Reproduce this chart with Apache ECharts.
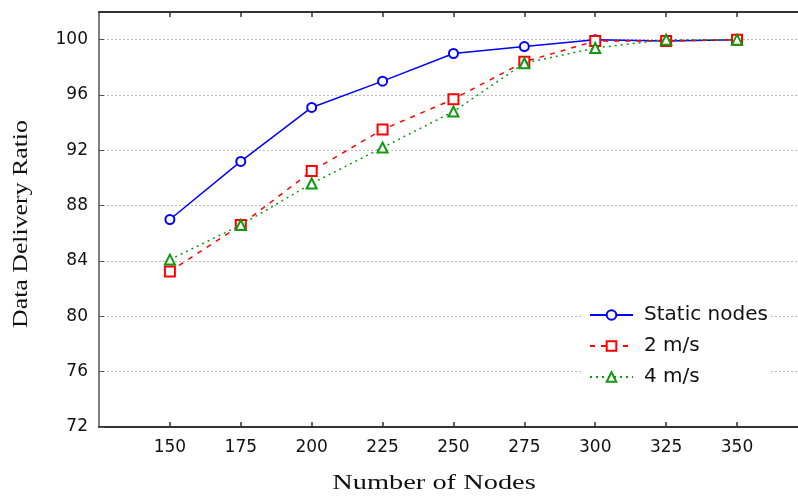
<!DOCTYPE html>
<html>
<head>
<meta charset="utf-8">
<script src="https://cdn.jsdelivr.net/npm/echarts@6/dist/echarts.min.js"></script>
<style>html,body{margin:0;padding:0;background:#fff}#c{width:798px;height:497px}</style>
</head>
<body>
<div id="c"></div>
<script>
const nodes = [150, 175, 200, 225, 250, 275, 300, 325, 350];
const staticNodes = [87.0, 91.2, 95.1, 97.0, 99.0, 99.5, 100.0, 99.9, 100.0];
const speed2 = [83.25, 86.6, 90.5, 93.5, 95.7, 98.4, 99.9, 99.9, 100.0];
const speed4 = [84.1, 86.6, 89.6, 92.2, 94.8, 98.3, 99.4, 100.0, 100.0];
const yTicks = [72, 76, 80, 84, 88, 92, 96, 100];

const pair = arr => nodes.map((n, i) => [n, arr[i]]);
const chart = echarts.init(document.getElementById('c'));
const labelFont = { fontFamily: 'DejaVu Sans', fontSize: 17, color: '#111' };
chart.setOption({
  animation: false,
  grid: { left: 99, right: 0, top: 12, bottom: 70, containLabel: false },
  xAxis: [{
    type: 'value', min: 125, max: 371.5, interval: 25,
    axisLine: { show: true, lineStyle: { color: '#333', width: 2 } },
    axisTick: { show: true, inside: true, length: 5, customValues: nodes, lineStyle: { color: '#333', width: 1.5 } },
    axisLabel: Object.assign({ margin: 12, customValues: nodes }, labelFont),
    splitLine: { show: false }
  }, {
    type: 'value', position: 'top', min: 125, max: 371.5, interval: 25,
    axisLine: { show: true, lineStyle: { color: '#333', width: 2 } },
    axisTick: { show: true, inside: true, length: 5, customValues: nodes, lineStyle: { color: '#333', width: 1.5 } },
    axisLabel: { show: false },
    splitLine: { show: false }
  }],
  yAxis: {
    type: 'value', min: 72, max: 102, interval: 4,
    axisLine: { show: true, lineStyle: { color: '#555', width: 1.5 } },
    axisTick: { show: true, inside: true, length: 5, customValues: yTicks, lineStyle: { color: '#555' } },
    axisLabel: Object.assign({ margin: 11, customValues: yTicks }, labelFont),
    splitLine: { show: true, lineStyle: { color: '#bbb', type: [2, 2], width: 1 } }
  },
  legend: {
    orient: 'vertical', left: 583, top: 299,
    backgroundColor: '#fff', padding: [6, 2, 6, 6],
    itemWidth: 43, itemHeight: 12, itemGap: 11,
    textStyle: { fontFamily: 'DejaVu Sans', fontSize: 20, color: '#111', lineHeight: 20, padding: [0, 0, 0, 6] },
    data: ['Static nodes', '2 m/s', '4 m/s']
  },
  graphic: [
    { type: 'text', x: 434, y: 484, scaleX: 1.42, style: { text: 'Number of Nodes', align: 'center', verticalAlign: 'middle', font: '20px "Liberation Serif", "Times New Roman", serif', fill: '#111' } },
    { type: 'text', x: 22, y: 224, rotation: Math.PI / 2, scaleX: 1.29, style: { text: 'Data Delivery Ratio', align: 'center', verticalAlign: 'middle', font: '20px "Liberation Serif", "Times New Roman", serif', fill: '#111' } }
  ],
  series: [
    { name: 'Static nodes', type: 'line', data: pair(staticNodes), symbol: 'emptyCircle', symbolSize: 9,
      itemStyle: { color: '#0000ff', borderWidth: 1.5 }, lineStyle: { color: '#0000ff', width: 1.5 }, z: 3 },
    { name: '2 m/s', type: 'line', data: pair(speed2), symbol: 'emptyRect', symbolSize: 10,
      itemStyle: { color: '#ff0000', borderWidth: 1.5 }, lineStyle: { color: '#ff0000', width: 1.5, type: [5, 6] }, z: 4 },
    { name: '4 m/s', type: 'line', data: pair(speed4), symbol: 'emptyTriangle', symbolSize: 10,
      itemStyle: { color: '#119911', borderWidth: 1.5 }, lineStyle: { color: '#119911', width: 1.5, type: [2, 4] }, z: 5 }
  ]
});
</script>
</body>
</html>
